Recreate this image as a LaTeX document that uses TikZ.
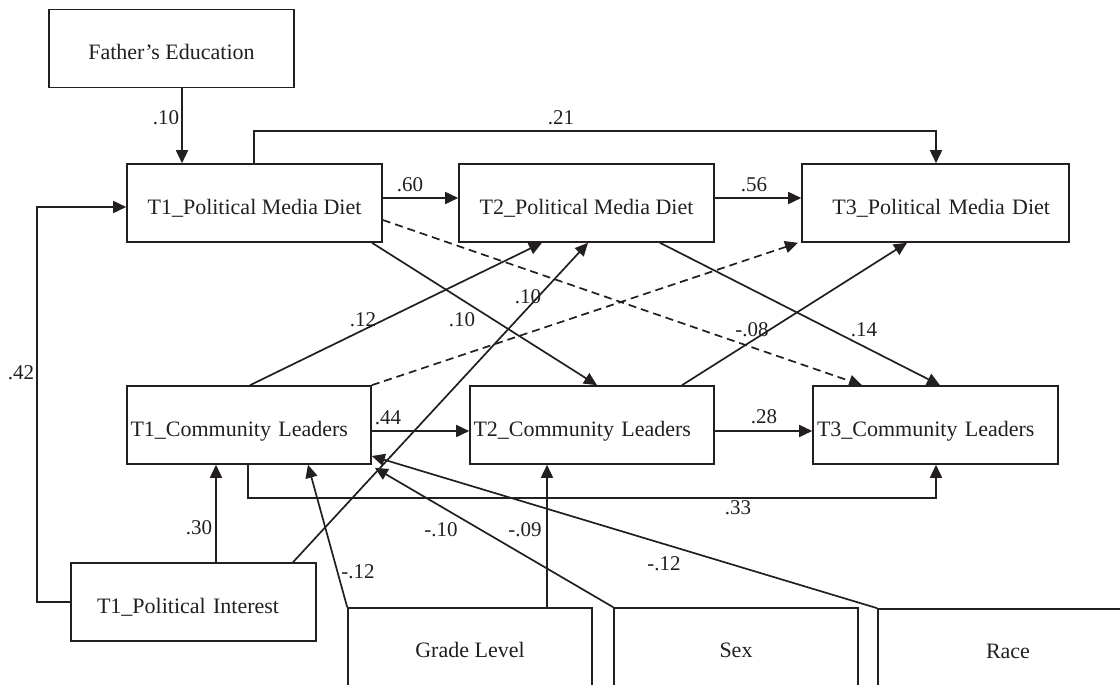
\documentclass[tikz,border=0pt]{standalone}
\usepackage{fontspec}
\setmainfont{Liberation Serif}
\usetikzlibrary{arrows.meta}
\definecolor{inkc}{RGB}{35,31,32}
\begin{document}
\begin{tikzpicture}[x=1pt,y=-1pt,
  box/.style={draw=inkc, line width=1.6pt, rectangle, inner sep=0pt,
    minimum height=78pt, text height=22pt, text depth=0pt, text=inkc,
    font=\fontsize{22}{26}\selectfont},
  lowbox/.style={box, minimum height=88pt, text height=15pt, text depth=5pt},
  link/.style={draw=inkc, line width=1.7pt, -{Triangle[length=13pt,width=12pt]}},
  dashlink/.style={link, dash pattern=on 8pt off 5pt},
  lbl/.style={inner sep=0pt, text=inkc, font=\fontsize{21}{24}\selectfont}]
\useasboundingbox (0,0) rectangle (1120,685);
\clip (0,0) rectangle (1120,685);

% variables
\node[box, minimum width=245pt] (FE) at (171.5,48.5) {Father’s Education};
\node[box, minimum width=255pt] (T1PMD) at (254.5,203) {T1\_Political Media Diet};
\node[box, minimum width=255pt] (T2PMD) at (586.5,203) {T2\_Political Media Diet};
\node[box, align=right, inner xsep=19pt, text width=229pt] (T3PMD) at (935.5,203) {T3\_Political Media Diet};
\node[box, align=left, inner xsep=3.5pt, text width=237pt] (T1CL) at (249,425) {T1\_Community Leaders};
\node[box, align=left, inner xsep=3.5pt, text width=237pt] (T2CL) at (592,425) {T2\_Community Leaders};
\node[box, align=left, inner xsep=4pt, text width=237pt] (T3CL) at (935.5,425) {T3\_Community Leaders};
\node[box, align=left, inner xsep=26pt, text width=193pt] (T1PI) at (193.5,602) {T1\_Political Interest};
\node[lowbox, minimum width=244pt] (GL) at (470,652) {Grade Level};
\node[lowbox, minimum width=244pt] (SX) at (736,652) {Sex};
\node[lowbox, minimum width=260pt] (RC) at (1008,653) {Race};

% paths
\draw[link] (FE.south -| 182,0) -- (T1PMD.north -| 182,0);
\draw[link] (T1PMD.north -| 254,0) -- ++(0,-32) -| (T3PMD.north -| 936,0);
\draw[link] (T1PMD.east |- 0,198) -- (T2PMD.west |- 0,198);
\draw[link] (T2PMD.east |- 0,198) -- (T3PMD.west |- 0,198);
\draw[link] (T1CL.east |- 0,431) -- (T2CL.west |- 0,431);
\draw[link] (T2CL.east |- 0,431) -- (T3CL.west |- 0,431);
\draw[link] (T1PI.north -| 216,0) -- (T1CL.south -| 216,0);
\draw[link] (T1PI.west |- 0,602) -- ++(-33,0) |- (T1PMD.west |- 0,207);
\draw[link] (T1CL.south -| 248,0) -- ++(0,33) -| (T3CL.south -| 936,0);
\draw[link] (T1PMD.south -| 372,0) -- (T2CL.north -| 597,0);
\draw[link] (T1CL.north -| 250,0) -- (T2PMD.south -| 542,0);
\draw[dashlink] (T1CL.north east) -- (T3PMD.south -| 798,0);
\draw[dashlink] (T1PMD.east |- 0,220) -- (T3CL.north -| 862,0);
\draw[link] (T2PMD.south -| 660,0) -- (T3CL.north -| 940,0);
\draw[link] (T2CL.north -| 682,0) -- (T3PMD.south -| 907,0);
\draw[link] (T1PI.north -| 293,0) -- (T2PMD.south -| 588,0);
\draw[link] (GL.north west) -- (T1CL.south -| 308,0);
\draw[link] (GL.north -| 547,0) -- (T2CL.south -| 547,0);
\draw[link] (SX.north west) -- ([shift={(3pt,-3pt)}]T1CL.south east);
\draw[link] (RC.north west) -- (T1CL.east |- 0,456);

% path coefficients
\node[lbl] (cFE) at (166,118) {.10};
\node[lbl] (cAR) at (561,118) {.21};
\node[lbl] (cM12) at (410,185) {.60};
\node[lbl] (cM23) at (754,185) {.56};
\node[lbl] (cCM) at (363,320) {.12};
\node[lbl] (cMC) at (462,320) {.10};
\node[lbl] (cPI2) at (528,297) {.10};
\node[lbl] (cD) at (752,330) {-.08};
\node[lbl] (cM2C) at (864,330) {.14};
\node[lbl] (cPIM) at (21,373) {.42};
\node[lbl] (cC12) at (388,418) {.44};
\node[lbl] (cC23) at (764,417) {.28};
\node[lbl] (cPIC) at (199,528) {.30};
\node[lbl] (cC13) at (738,508) {.33};
\node[lbl] (cGL) at (358,572) {-.12};
\node[lbl] (cSX) at (441,530) {-.10};
\node[lbl] (cGL2) at (525,530) {-.09};
\node[lbl] (cRC) at (664,564) {-.12};
\end{tikzpicture}
\end{document}
